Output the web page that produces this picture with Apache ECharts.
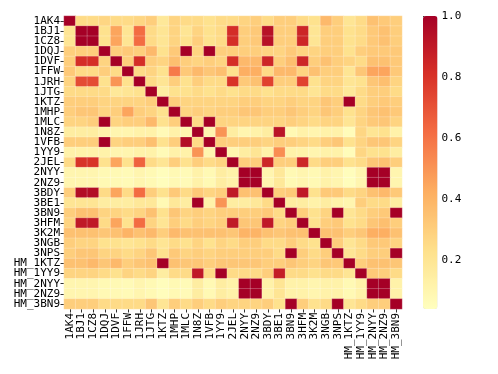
<!DOCTYPE html>
<html>
<head>
<meta charset="utf-8">
<script src="https://cdn.jsdelivr.net/npm/echarts@6/dist/echarts.min.js"></script>
<style>
  html,body{margin:0;padding:0;background:#fff;}
  #chart{width:498px;height:374px;}
</style>
</head>
<body>
<div id="chart"></div>
<script>
// complex names, rows and columns use the same order
var labels = ['1AK4','1BJ1','1CZ8','1DQJ','1DVF','1FFW','1JRH','1JTG','1KTZ','1MHP','1MLC','1N8Z','1VFB','1YY9','2JEL',
  '2NYY','2NZ9','3BDY','3BE1','3BN9','3HFM','3K2M','3NGB','3NPS','HM_1KTZ','HM_1YY9','HM_2NYY','HM_2NZ9','HM_3BN9'];

// similarity values, one row per label
var sim = [
  [1.0,0.25,0.25,0.27,0.25,0.25,0.27,0.3,0.18,0.28,0.25,0.25,0.22,0.25,0.25, 0.28,0.3,0.25,0.3,0.3,0.25,0.22,0.38,0.3,0.2,0.25,0.35,0.32,0.3],
  [0.2,1.0,1.0,0.22,0.45,0.2,0.62,0.25,0.2,0.28,0.2,0.28,0.22,0.25,0.82, 0.3,0.32,0.93,0.3,0.3,0.85,0.2,0.3,0.3,0.22,0.25,0.32,0.35,0.3],
  [0.2,1.0,1.0,0.22,0.45,0.2,0.62,0.25,0.2,0.28,0.22,0.3,0.22,0.25,0.82, 0.3,0.32,0.93,0.3,0.3,0.85,0.2,0.3,0.3,0.22,0.25,0.32,0.35,0.3],
  [0.3,0.3,0.3,1.0,0.3,0.32,0.3,0.38,0.22,0.32,1.0,0.28,1.0,0.3,0.3, 0.3,0.3,0.28,0.28,0.32,0.28,0.28,0.3,0.3,0.22,0.3,0.32,0.32,0.32],
  [0.3,0.82,0.82,0.28,1.0,0.3,0.82,0.3,0.28,0.36,0.3,0.28,0.3,0.28,0.82, 0.38,0.38,0.85,0.3,0.36,0.85,0.3,0.35,0.3,0.28,0.25,0.35,0.35,0.32],
  [0.32,0.25,0.25,0.3,0.25,1.0,0.25,0.28,0.22,0.58,0.32,0.38,0.33,0.36,0.22, 0.42,0.42,0.25,0.38,0.38,0.28,0.35,0.3,0.3,0.2,0.33,0.45,0.45,0.32],
  [0.28,0.72,0.72,0.22,0.5,0.22,1.0,0.25,0.2,0.3,0.22,0.3,0.25,0.25,0.8, 0.32,0.35,0.75,0.3,0.3,0.75,0.22,0.28,0.28,0.2,0.22,0.33,0.36,0.28],
  [0.25,0.25,0.25,0.25,0.18,0.2,0.22,1.0,0.15,0.22,0.22,0.25,0.22,0.25,0.22, 0.25,0.25,0.22,0.25,0.25,0.25,0.2,0.25,0.25,0.18,0.25,0.3,0.3,0.25],
  [0.3,0.3,0.3,0.28,0.28,0.28,0.28,0.3,1.0,0.3,0.28,0.28,0.28,0.28,0.28, 0.3,0.3,0.28,0.28,0.3,0.28,0.28,0.33,0.3,1.0,0.25,0.3,0.32,0.3],
  [0.3,0.33,0.33,0.28,0.3,0.45,0.3,0.28,0.22,1.0,0.28,0.3,0.28,0.3,0.3, 0.33,0.33,0.3,0.3,0.33,0.3,0.28,0.33,0.3,0.22,0.28,0.33,0.35,0.32],
  [0.28,0.28,0.3,1.0,0.28,0.3,0.3,0.38,0.22,0.3,1.0,0.25,1.0,0.28,0.28, 0.28,0.28,0.28,0.28,0.3,0.28,0.25,0.28,0.28,0.2,0.28,0.32,0.33,0.28],
  [0.15,0.15,0.15,0.12,0.1,0.1,0.12,0.12,0.07,0.12,0.1,1.0,0.1,0.5,0.15, 0.1,0.12,0.15,0.92,0.08,0.12,0.1,0.12,0.12,0.06,0.27,0.2,0.22,0.12],
  [0.3,0.3,0.3,1.0,0.28,0.3,0.3,0.36,0.22,0.3,0.95,0.25,1.0,0.3,0.3, 0.3,0.3,0.28,0.3,0.3,0.28,0.25,0.3,0.33,0.22,0.28,0.33,0.33,0.28],
  [0.12,0.12,0.12,0.12,0.1,0.1,0.12,0.12,0.07,0.12,0.12,0.5,0.1,1.0,0.1, 0.15,0.2,0.12,0.52,0.12,0.12,0.1,0.12,0.12,0.06,0.27,0.22,0.22,0.15],
  [0.25,0.8,0.8,0.22,0.45,0.22,0.65,0.25,0.2,0.3,0.22,0.3,0.25,0.28,1.0, 0.3,0.3,0.85,0.3,0.3,0.85,0.25,0.3,0.3,0.22,0.25,0.33,0.35,0.3],
  [0.1,0.1,0.1,0.08,0.08,0.07,0.1,0.08,0.05,0.08,0.07,0.12,0.08,0.15,0.12, 1.0,1.0,0.1,0.18,0.08,0.1,0.08,0.12,0.1,0.05,0.1,1.0,1.0,0.1],
  [0.1,0.1,0.1,0.08,0.08,0.07,0.1,0.08,0.05,0.08,0.07,0.12,0.08,0.15,0.12, 1.0,1.0,0.1,0.18,0.08,0.1,0.08,0.12,0.1,0.05,0.1,1.0,1.0,0.1],
  [0.3,0.95,0.95,0.25,0.45,0.25,0.62,0.3,0.22,0.32,0.25,0.32,0.28,0.3,0.9, 0.35,0.35,1.0,0.3,0.32,0.9,0.22,0.32,0.32,0.25,0.28,0.35,0.38,0.32],
  [0.2,0.2,0.2,0.15,0.15,0.15,0.18,0.18,0.08,0.18,0.15,1.0,0.12,0.5,0.15, 0.15,0.18,0.25,1.0,0.15,0.15,0.12,0.15,0.12,0.1,0.3,0.25,0.25,0.15],
  [0.3,0.35,0.35,0.28,0.28,0.25,0.28,0.35,0.22,0.33,0.28,0.3,0.28,0.3,0.3, 0.3,0.3,0.32,0.25,1.0,0.3,0.22,0.28,1.0,0.2,0.25,0.3,0.32,1.0],
  [0.28,0.9,0.9,0.25,0.45,0.22,0.62,0.28,0.2,0.3,0.25,0.3,0.28,0.3,0.9, 0.33,0.33,0.9,0.28,0.3,1.0,0.22,0.3,0.32,0.22,0.25,0.33,0.36,0.3],
  [0.35,0.35,0.35,0.33,0.35,0.4,0.35,0.38,0.3,0.38,0.35,0.35,0.35,0.35,0.33, 0.4,0.4,0.35,0.33,0.35,0.35,1.0,0.35,0.35,0.3,0.33,0.42,0.42,0.35],
  [0.3,0.28,0.28,0.22,0.22,0.2,0.22,0.25,0.2,0.25,0.22,0.28,0.22,0.28,0.25, 0.3,0.3,0.25,0.25,0.3,0.25,0.22,1.0,0.3,0.2,0.25,0.32,0.32,0.28],
  [0.3,0.33,0.33,0.28,0.28,0.25,0.28,0.33,0.22,0.32,0.28,0.3,0.28,0.3,0.3, 0.3,0.3,0.3,0.25,1.0,0.3,0.25,0.3,1.0,0.2,0.25,0.3,0.3,1.0],
  [0.35,0.35,0.38,0.33,0.38,0.3,0.33,0.35,1.0,0.35,0.33,0.33,0.3,0.33,0.33, 0.33,0.33,0.3,0.3,0.33,0.3,0.28,0.33,0.32,1.0,0.3,0.35,0.35,0.33],
  [0.28,0.28,0.28,0.25,0.22,0.28,0.25,0.28,0.15,0.25,0.25,0.9,0.25,1.0,0.25, 0.25,0.25,0.3,0.88,0.25,0.25,0.22,0.25,0.25,0.2,1.0,0.32,0.3,0.25],
  [0.1,0.1,0.1,0.08,0.08,0.07,0.1,0.08,0.05,0.08,0.07,0.15,0.08,0.15,0.12, 1.0,1.0,0.12,0.2,0.12,0.12,0.1,0.12,0.12,0.08,0.12,1.0,1.0,0.12],
  [0.1,0.1,0.1,0.08,0.08,0.07,0.1,0.08,0.05,0.08,0.07,0.15,0.08,0.15,0.12, 1.0,1.0,0.12,0.2,0.12,0.12,0.1,0.12,0.12,0.08,0.12,1.0,1.0,0.12],
  [0.3,0.3,0.3,0.25,0.25,0.25,0.25,0.33,0.2,0.3,0.25,0.3,0.25,0.3,0.28, 0.28,0.28,0.3,0.22,1.0,0.3,0.22,0.25,1.0,0.2,0.25,0.3,0.3,1.0]
];

// colorbar
var cbarMin = 0.04;
var cbarMax = 1.0;
var cbarTicks = [0.2, 0.4, 0.6, 0.8, 1.0];
var cmap = ['#ffffbf','#fee08b','#fdae61','#f46d43','#d73027','#a50026'];

var cells = [];
for (var r = 0; r < sim.length; r++) {
    for (var c = 0; c < sim[r].length; c++) {
        cells.push([c, r, sim[r][c]]);
    }
}

var font = 'DejaVu Sans Mono';
var myChart = echarts.init(document.getElementById('chart'));
var option = {
    animation: false,
    grid: [
        {left: 64, top: 16, width: 338, height: 293},
        {left: 423, top: 16, width: 14.5, height: 293, show: false}
    ],
    xAxis: [
        {
            type: 'category', data: labels, gridIndex: 0,
            axisLine: {show: false},
            axisTick: {show: true, alignWithLabel: true, length: 3.5, lineStyle: {color: '#000', width: 0.8}},
            axisLabel: {rotate: 90, interval: 0, margin: 4, fontFamily: font, fontSize: 11, color: '#000'},
            splitLine: {show: false}
        },
        {type: 'value', gridIndex: 1, show: false, min: 0, max: 1}
    ],
    yAxis: [
        {
            type: 'category', data: labels, gridIndex: 0, inverse: true,
            axisLine: {show: false},
            axisTick: {show: true, alignWithLabel: true, length: 3.5, lineStyle: {color: '#000', width: 0.8}},
            axisLabel: {interval: 0, margin: 4, fontFamily: font, fontSize: 11, color: '#000'},
            splitLine: {show: false}
        },
        {
            type: 'value', gridIndex: 1, position: 'right', min: cbarMin, max: cbarMax,
            axisLine: {show: false},
            splitLine: {show: false},
            axisTick: {show: true, length: 3.5, customValues: cbarTicks, lineStyle: {color: '#000', width: 0.8}},
            axisLabel: {
                customValues: cbarTicks, margin: 4, fontFamily: font, fontSize: 11, color: '#000',
                formatter: function (v) { return v.toFixed(1); }
            }
        }
    ],
    visualMap: {
        type: 'continuous',
        min: cbarMin, max: cbarMax,
        calculable: false,
        left: 423, top: 16,
        itemWidth: 14.5, itemHeight: 293,
        padding: 0,
        inRange: {color: cmap},
        seriesIndex: 0
    },
    series: [{
        type: 'heatmap',
        xAxisIndex: 0, yAxisIndex: 0,
        data: cells,
        itemStyle: {borderColor: 'rgba(255,255,255,0.45)', borderWidth: 0.5}
    }]
};
myChart.setOption(option);
</script>
</body>
</html>
